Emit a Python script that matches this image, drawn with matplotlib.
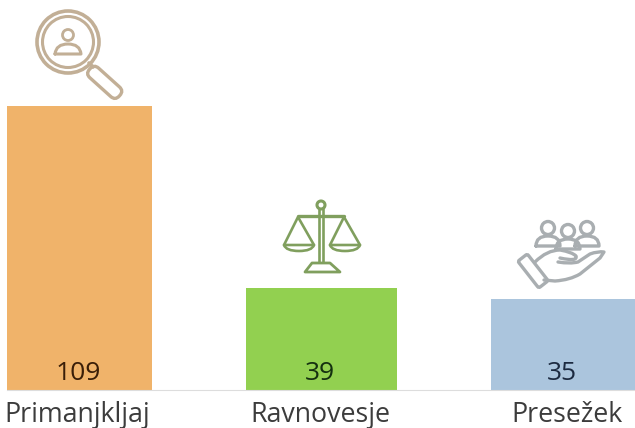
import matplotlib
matplotlib.use('Agg')
import matplotlib.pyplot as plt
from matplotlib.patches import Circle, FancyBboxPatch, PathPatch
from matplotlib.path import Path
from matplotlib.transforms import Affine2D, ScaledTranslation

categories = ['Primanjkljaj', 'Ravnovesje', 'Presežek']
values = [109, 39, 35]
bar_colors = ['#F0B36A', '#92D050', '#ABC5DD']
value_colors = ['#3A1E08', '#143010', '#1C2A40']

W, H = 635, 428
plt.rcParams['font.family'] = ['Open Sans', 'DejaVu Sans']
fig = plt.figure(figsize=(W / 100, H / 100), dpi=100)

# bars, axes bottom sits on the baseline
ax = fig.add_axes([0, (H - 390) / H, 1, 390 / H])
ax.bar(range(3), values, width=[0.6, 0.624, 0.6], color=bar_colors)
ax.set_xlim(-0.3285, 2.295)
ax.set_ylim(0, 390 / 2.606)
for s in ['top', 'right', 'left']:
    ax.spines[s].set_visible(False)
ax.spines['bottom'].set_color('#DDDDDD')
ax.spines['bottom'].set_bounds(-0.3, 2.295)
ax.set_yticks([])
ax.set_xticks(range(3))
ax.set_xticklabels(categories, fontsize=19.3, color='#3C3C3C')
ax.tick_params(axis='x', length=0, pad=8)
for lab, dx in zip(ax.get_xticklabels(), [-2, -1.5, 3.5]):
    lab.set_transform(lab.get_transform() + ScaledTranslation(dx / 100, 0, fig.dpi_scale_trans))
for i, v in enumerate(values):
    ax.text(i - 0.006, 6.3, str(v), ha='center', va='center', fontsize=19, color=value_colors[i])

# icons are drawn on a pixel overlay
ov = fig.add_axes([0, 0, 1, 1])
ov.set_xlim(0, W)
ov.set_ylim(H, 0)
ov.axis('off')
ov.patch.set_alpha(0)


def line(pts, color, lw=2.0, closed=False):
    codes = [Path.MOVETO] + [Path.LINETO] * (len(pts) - 1)
    if closed:
        pts = pts + [pts[0]]
        codes = codes + [Path.CLOSEPOLY]
    ov.add_patch(PathPatch(Path(pts, codes), fc='none', ec=color, lw=lw, capstyle='round', joinstyle='round'))


def curve(pts, codes, color, lw=2.0):
    ov.add_patch(PathPatch(Path(pts, codes), fc='none', ec=color, lw=lw, capstyle='round', joinstyle='round'))


M, L, C3 = Path.MOVETO, Path.LINETO, Path.CURVE3

# magnifier
tan = '#C2AF96'
ov.add_patch(Circle((68, 42), 31, fc='none', ec=tan, lw=2.6))
ov.add_patch(Circle((68, 42), 25.5, fc='none', ec=tan, lw=2.2))
ov.add_patch(Circle((68, 35), 5.5, fc='none', ec=tan, lw=2.0))
curve([(55, 54), (56, 44), (68, 44), (80, 44), (81, 54), (55, 54)], [M, C3, C3, C3, C3, L], tan, 2.2)
line([(89, 63), (93, 67)], tan, 2.6)
rot = Affine2D().rotate_deg_around(88, 68, 42) + ov.transData
ov.add_patch(FancyBboxPatch((90, 61), 40, 13, boxstyle='round,pad=0,rounding_size=6',
                            fc='none', ec=tan, lw=2.4, transform=rot))

# scales
grn = '#809F5E'
ov.add_patch(Circle((321, 205), 4, fc='none', ec=grn, lw=2.2))
line([(319, 209), (319, 262)], grn, 1.9)
line([(323, 209), (323, 262)], grn, 1.9)
line([(298, 216), (344, 216)], grn, 2.4)
for ax_x in [298, 344]:
    line([(ax_x, 217), (ax_x - 14, 245), (ax_x + 16, 245)], grn, 1.9, closed=True)
    curve([(ax_x - 14, 245), (ax_x - 12, 251), (ax_x + 1, 251), (ax_x + 14, 251), (ax_x + 16, 245)],
          [M, C3, C3, C3, C3], grn, 1.9)
line([(312, 263), (330, 263), (340, 272), (305, 272)], grn, 2.0, closed=True)

# people and hand
gry = '#A9AEB1'
for hx, hy in [(548, 228), (568, 231), (587, 228)]:
    ov.add_patch(Circle((hx, hy), 6.5, fc='none', ec=gry, lw=2.4))
    curve([(hx - 12, hy + 18), (hx - 12, hy + 8), (hx, hy + 8), (hx + 12, hy + 8), (hx + 12, hy + 18), (hx - 12, hy + 18)],
          [M, C3, C3, C3, C3, L], gry, 2.4)
rot2 = Affine2D().rotate_deg_around(533, 271, 52) + ov.transData
ov.add_patch(FancyBboxPatch((516, 265), 34, 12, boxstyle='round,pad=0,rounding_size=2',
                            fc='none', ec=gry, lw=2.4, transform=rot2))
curve([(535, 262), (547, 250), (560, 250), (572, 252), (576, 256), (578, 262), (560, 258)],
      [M, C3, C3, C3, C3, C3, C3], gry, 2.4)
curve([(558, 262), (570, 264), (578, 262), (590, 254), (598, 251), (604, 252), (600, 258),
       (580, 274), (570, 280), (555, 281), (544, 280)],
      [M, C3, C3, L, C3, C3, L, L, C3, C3, L], gry, 2.4)

fig.savefig('out.png', dpi=100)
